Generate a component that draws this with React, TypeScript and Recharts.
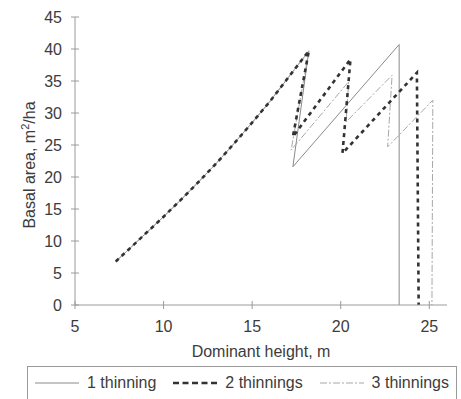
import React from "react";
import { Legend, Line, LineChart, XAxis, YAxis } from "recharts";

// shared growth curve before the first thinning
const growthHeight = [7.3, 8, 9, 10, 11, 12, 13, 14, 15, 16, 17, 18.2];
const growthBasal = [6.8, 8.6, 11.2, 13.8, 16.5, 19.3, 22.2, 25.3, 28.5, 31.8, 35.4, 39.7];

// thinning regimes, continuing from the end of the growth curve
const oneHeight = [17.3, 23.3, 23.3];
const oneBasal = [21.6, 40.7, 0];

const twoHeight = [17.3, 20.55, 20.1, 24.3, 24.4];
const twoBasal = [26.3, 38.4, 23.7, 36.3, 0];

const threeHeight = [17.2, 20.45, 20.3, 22.9, 22.65, 25.2, 25.15];
const threeBasal = [24.2, 34.9, 28.6, 35.9, 24.7, 32.0, 0];

const xTicks = [5, 10, 15, 20, 25];
const yTicks = [0, 5, 10, 15, 20, 25, 30, 35, 40, 45];

const seriesNames = ["1 thinning", "2 thinnings", "3 thinnings"];

const build = (hs: number[], bs: number[]) => {
  const h = [...growthHeight, ...hs];
  const b = [...growthBasal, ...bs];
  return h.map((x, i) => ({ x, y: b[i] }));
};

const FONT = '"Liberation Sans", Arial, sans-serif';
const TEXT = "#3c3c3c";
const AXIS = "#9a9a9a";

const styles = [
  { stroke: "#8a8a8a", width: 1, dash: undefined as string | undefined, key: undefined as string | undefined },
  { stroke: "#333333", width: 2.6, dash: "4 4", key: "6 3.5" },
  { stroke: "#a8a8a8", width: 1, dash: "7 2 2 2", key: "7 2 2 2" },
];

const YTick = (props: any) => {
  const { x, y, payload } = props;
  const ax = x + 13;
  return (
    <g>
      <line x1={ax - 4} x2={ax + 4} y1={y} y2={y} stroke={AXIS} />
      <text x={x} y={y + 5.7} textAnchor="end" fill={TEXT} fontSize={16} fontFamily={FONT}>
        {payload.value}
      </text>
    </g>
  );
};

const XTick = (props: any) => {
  const { x, y, payload } = props;
  return (
    <g>
      <line x1={x} x2={x} y1={y - 4} y2={y + 4} stroke={AXIS} />
      <text x={x} y={y + 27} textAnchor="middle" fill={TEXT} fontSize={16} fontFamily={FONT}>
        {payload.value}
      </text>
    </g>
  );
};

const YLabel = (props: any) => {
  const { viewBox } = props;
  const cx = 34.5;
  const cy = viewBox.y + viewBox.height / 2 + 4;
  return (
    <text
      x={cx}
      y={cy}
      transform={`rotate(-90, ${cx}, ${cy})`}
      textAnchor="middle"
      fill={TEXT}
      fontSize={16}
      fontFamily={FONT}
    >
      Basal area, m<tspan fontSize={11} dy={-6}>2</tspan>
      <tspan dy={6}>/ha</tspan>
    </text>
  );
};

const LegendBox = () => (
  <div
    style={{
      boxSizing: "border-box",
      height: 33,
      borderTop: `1px solid ${AXIS}`,
      borderLeft: `1px solid ${AXIS}`,
      borderRight: `1px solid ${AXIS}`,
      display: "flex",
      justifyContent: "space-between",
      alignItems: "center",
      padding: "0 7px 0 7px",
      fontFamily: FONT,
      fontSize: 16,
      color: TEXT,
    }}
  >
    {seriesNames.map((name, i) => (
      <div key={name} style={{ display: "flex", alignItems: "center" }}>
        <svg width={44} height={10} style={{ marginRight: 8 }}>
          <line
            x1={0}
            x2={44}
            y1={5}
            y2={5}
            stroke={styles[i].stroke}
            strokeWidth={styles[i].width}
            strokeDasharray={styles[i].key}
          />
        </svg>
        <span>{name}</span>
      </div>
    ))}
  </div>
);

export default function App() {
  const series = [
    build(oneHeight, oneBasal),
    build(twoHeight, twoBasal),
    build(threeHeight, threeBasal),
  ];
  // draw order: solid, dash-dot, then dashed on top
  const order = [0, 2, 1];
  return (
    <div style={{ position: "absolute", left: 0, top: 0, background: "#fff" }}>
      <LineChart width={461} height={399} margin={{ top: 17, right: 14, bottom: 0, left: 0 }}>
        <XAxis
          type="number"
          dataKey="x"
          domain={[5, 26]}
          ticks={xTicks}
          allowDataOverflow
          height={61}
          stroke={AXIS}
          tickLine={false}
          tickSize={0}
          tickMargin={0}
          tick={<XTick />}
          label={{
            value: "Dominant height, m",
            position: "insideBottom",
            offset: 9.5,
            fill: TEXT,
            fontSize: 16,
            fontFamily: FONT,
          }}
        />
        <YAxis
          type="number"
          domain={[0, 45]}
          ticks={yTicks}
          width={75}
          stroke={AXIS}
          tickLine={false}
          tickSize={0}
          tickMargin={13}
          tick={<YTick />}
          label={<YLabel />}
        />
        <Legend
          verticalAlign="bottom"
          content={<LegendBox />}
          wrapperStyle={{ left: 27, width: 430, bottom: 0 }}
        />
        {order.map((i) => (
          <Line
            key={seriesNames[i]}
            name={seriesNames[i]}
            data={series[i]}
            dataKey="y"
            type="linear"
            stroke={styles[i].stroke}
            strokeWidth={styles[i].width}
            strokeDasharray={styles[i].dash}
            dot={false}
            activeDot={false}
            isAnimationActive={false}
          />
        ))}
      </LineChart>
    </div>
  );
}
